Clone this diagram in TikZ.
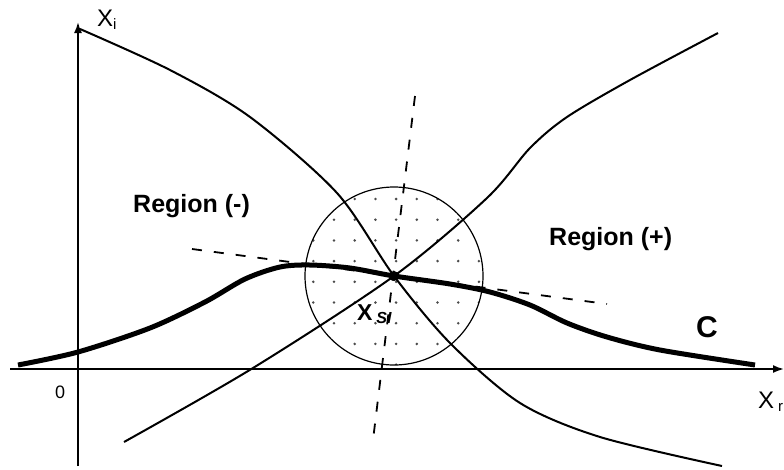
\documentclass[tikz,border=0pt]{standalone}
\usepackage{fontspec}
\setmainfont{Liberation Sans}
\usetikzlibrary{arrows.meta}

\begin{document}
\begin{tikzpicture}[x=1pt, y=-1pt,
  axis/.style={line width=1.8pt, -{Latex[length=11pt, width=8pt]}},
  branch/.style={line width=2pt},
  locus/.style={line width=5pt},
  guide/.style={line width=1.8pt, dash pattern=on 10pt off 12pt},
  region/.style={inner sep=0pt, anchor=base west, font=\bfseries\fontsize{25}{28}\selectfont},
  axlabel/.style={inner sep=0pt, anchor=base west, font=\fontsize{24}{26}\selectfont}
]
\useasboundingbox (0,0) rectangle (784,469);

% axes
\coordinate (xs) at (10,369);
\coordinate (xe) at (784,369);
\coordinate (ys) at (78,466);
\coordinate (ye) at (78,22);
\draw[axis] (xs) -- (xe);
\draw[axis] (ys) -- (ye);
\node[axlabel] (xi) at (97,26) {X\textsubscript{\fontsize{15}{15}\selectfont i}};
\node[axlabel] (xr) at (758,408) {X\,\textsubscript{\fontsize{15}{15}\selectfont r}};
\node[inner sep=0pt, anchor=base west, font=\fontsize{18}{20}\selectfont] (zero) at (55,398) {0};

% neighbourhood of the singular point
\coordinate (sp) at (394,276);
\begin{scope}
  \clip (sp) circle[radius=89];
  \foreach \i in {0,...,8}
    \foreach \j in {-1,...,8}
      \fill[black!70] (313.3+20.7*\i, 199+20.7*\j) circle[radius=1.4];
\end{scope}
\draw[line width=1.2pt] (sp) circle[radius=89];

% tangent and normal
\coordinate (t1) at (192,249);
\coordinate (t2) at (607,304);
\coordinate (n1) at (415,96);
\coordinate (n2) at (373,440);
\draw[guide] (t1) -- (t2);
\draw[guide] (n1) -- (n2);

% separatrices
\draw[branch] plot[smooth] coordinates {(80,29) (170,70) (250,117) (337,193) (sp)
  (450,343) (520,403) (600,437) (722,466)};
\draw[branch] plot[smooth] coordinates {(124,442) (253,368) (sp)
  (487,198) (530,148) (567,117) (630,80) (718,33)};

% curve C
\draw[locus] plot[smooth] coordinates {(18,365) (78,352) (150,328) (205,302) (245,279)
  (280,267) (310,265) (350,268) (sp) (450,284) (490,292) (530,305) (567,323) (607,337)
  (660,350) (755,365)};
\fill (sp) circle[radius=5];

\node[region] (rneg) at (133,212) {Region (-)};
\node[region] (rpos) at (549,245) {Region (+)};
\node[region, font=\bfseries\fontsize{30}{32}\selectfont] (cname) at (696,337) {C};
\node[inner sep=0pt, anchor=base west, font=\bfseries\fontsize{23}{25}\selectfont] (xsi) at (357,320)
  {X\,\textsubscript{\itshape\fontsize{16}{16}\selectfont SI}};
\end{tikzpicture}
\end{document}
